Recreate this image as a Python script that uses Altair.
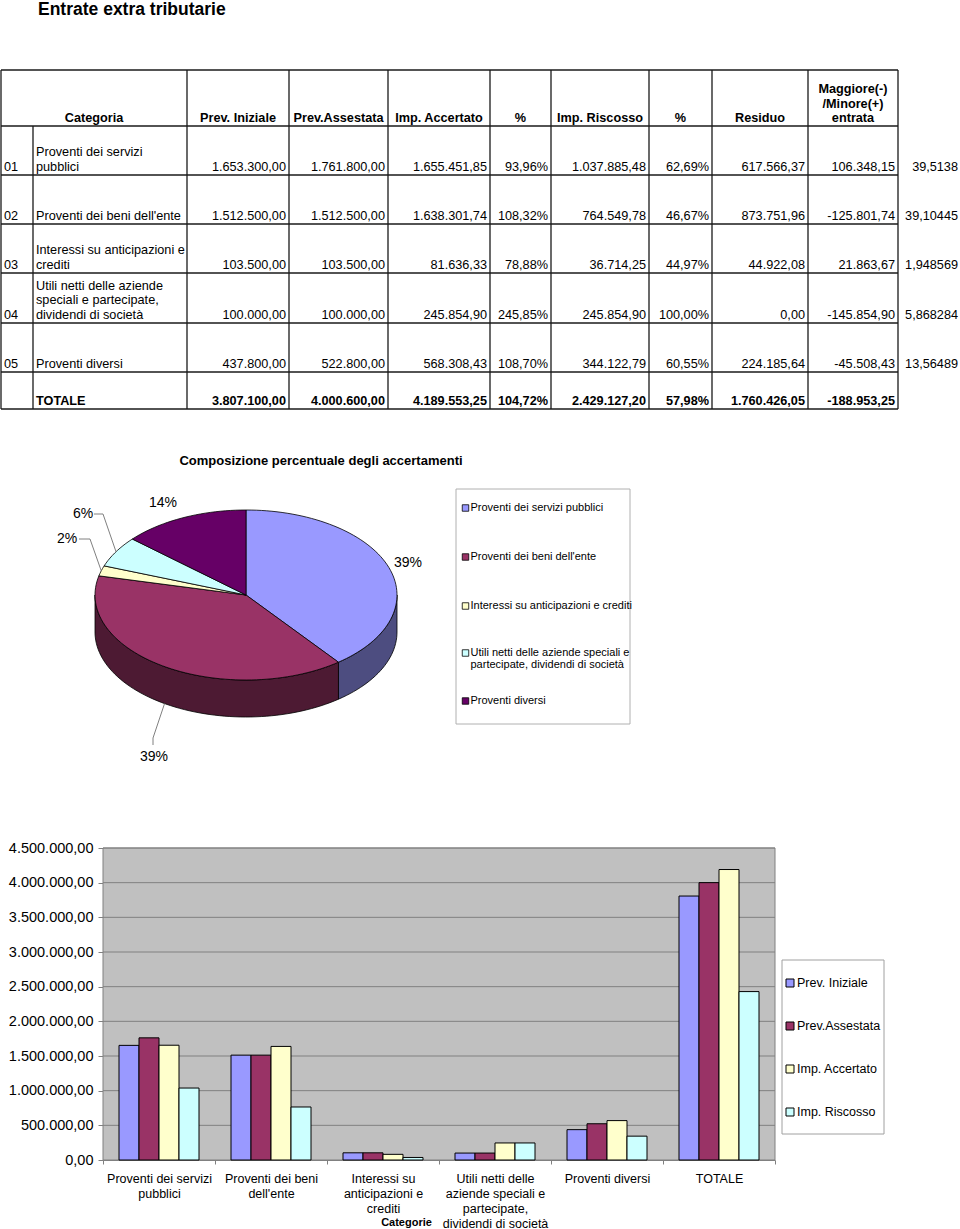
import math
import altair as alt
import pandas as pd

# ------------------------------------------------------------------ data
codes = ["01", "02", "03", "04", "05", ""]
table_names = [
    "Proventi dei servizi\npubblici",
    "Proventi dei beni dell'ente",
    "Interessi su anticipazioni e\ncrediti",
    "Utili netti delle aziende\nspeciali e partecipate,\ndividendi di società",
    "Proventi diversi",
    "TOTALE",
]
headers = ["Categoria", "Prev. Iniziale", "Prev.Assestata", "Imp. Accertato", "%",
           "Imp. Riscosso", "%", "Residuo", "Maggiore(-)\n/Minore(+)\nentrata"]

prev_iniziale = [1653300.00, 1512500.00, 103500.00, 100000.00, 437800.00, 3807100.00]
prev_assestata = [1761800.00, 1512500.00, 103500.00, 100000.00, 522800.00, 4000600.00]
imp_accertato = [1655451.85, 1638301.74, 81636.33, 245854.90, 568308.43, 4189553.25]
pct_accertato = [93.96, 108.32, 78.88, 245.85, 108.70, 104.72]
imp_riscosso = [1037885.48, 764549.78, 36714.25, 245854.90, 344122.79, 2429127.20]
pct_riscosso = [62.69, 46.67, 44.97, 100.00, 60.55, 57.98]
residuo = [617566.37, 873751.96, 44922.08, 0.00, 224185.64, 1760426.05]
maggiore_minore = [106348.15, -125801.74, 21863.67, -145854.90, -45508.43, -188953.25]
quota_accertato = [39.5138, 39.10445, 1.948569, 5.868284, 13.56489]

pie_title = "Composizione percentuale degli accertamenti"
pie_categories = [
    "Proventi dei servizi pubblici",
    "Proventi dei beni dell'ente",
    "Interessi su anticipazioni e crediti",
    "Utili netti delle aziende speciali e\npartecipate, dividendi di società",
    "Proventi diversi",
]
bar_categories = [
    "Proventi dei servizi\npubblici",
    "Proventi dei beni\ndell'ente",
    "Interessi su\nanticipazioni e\ncrediti",
    "Utili netti delle\naziende speciali e\npartecipate,\ndividendi di società",
    "Proventi diversi",
    "TOTALE",
]
series = ["Prev. Iniziale", "Prev.Assestata", "Imp. Accertato", "Imp. Riscosso"]
series_values = [prev_iniziale, prev_assestata, imp_accertato, imp_riscosso]
y_ticks = [0, 500000, 1000000, 1500000, 2000000, 2500000, 3000000, 3500000, 4000000, 4500000]

# ------------------------------------------------------------------ styles
series_colors = ["#9999FF", "#993366", "#FFFFCC", "#CCFFFF"]
pie_colors = ["#9999FF", "#993366", "#FFFFCC", "#CCFFFF", "#660066"]
pie_side_colors = ["#4D4D80", "#4D1A33", "#808066", "#668080", "#330033"]
FONT = "Liberation Sans"

# ------------------------------------------------------------------ layout
W, H = 960, 1229
TITLE_POS = (38, 15)
COL_EDGES = [1, 33, 187, 289, 388, 490, 551, 649, 712, 808, 898]
ROW_EDGES = [70, 126, 175, 224, 273, 323, 372, 409]
EXTRA_RIGHT = 958
TABLE_FS = 12.7
LINE_H = 14.5

PIE_TITLE_POS = (321, 465)
CX, CY, RX, RY, DEPTH = 246, 595, 151, 85, 37
PIE_LABEL_POS = [(408, 563), (154, 757), (67, 539), (83, 514), (163, 503)]
LEADER_ELBOWS = {1: [(153, 745), (153, 738)], 2: [(79, 539), (90, 539)], 3: [(94, 514), (103, 514)]}
PIE_LEG_BOX = (456, 489, 630, 724)
PIE_LEG_SYM_X, PIE_LEG_TEXT_X = 465.5, 470.5
PIE_LEG_Y = [508, 557, 606, 653, 701]
PIE_LEG_LH = 12

PLOT_X0, PLOT_X1, PLOT_Y0, PLOT_Y1 = 103, 775, 848, 1160
BAR_LEG_BOX = (782, 960, 884, 1134)
BAR_LEG_SYM_X, BAR_LEG_TEXT_X = 790, 797
BAR_LEG_Y = [983, 1026, 1069, 1112]


# ------------------------------------------------------------------ helpers
def it(v, dec=2):
    s = f"{v:,.{dec}f}"
    return s.replace(",", "#").replace(".", ",").replace("#", ".")


def PX(field):
    return alt.X(field, type="quantitative",
                 scale=alt.Scale(domain=[0, W], range=[0, W], nice=False, zero=False), axis=None)


def PY(field):
    return alt.Y(field, type="quantitative",
                 scale=alt.Scale(domain=[0, H], range=[0, H], nice=False, zero=False), axis=None)


def text_layers(cells, size, baseline="alphabetic"):
    df = pd.DataFrame(cells)
    out = []
    for (align, bold), g in df.groupby(["align", "bold"]):
        out.append(
            alt.Chart(g[["x", "y", "text"]]).mark_text(
                align=align, baseline=baseline, font=FONT, fontSize=size,
                fontWeight="bold" if bold else "normal", color="black"
            ).encode(x=PX("x"), y=PY("y"), text="text:N")
        )
    return out


# ------------------------------------------------------------------ title + table
cells = []


def add_lines(x, y_last, text, align, bold):
    lines = text.split("\n")
    n = len(lines)
    for i, ln in enumerate(lines):
        cells.append(dict(x=x, y=y_last - (n - 1 - i) * LINE_H, text=ln, align=align, bold=bold))


hb = ROW_EDGES[1] - 4
add_lines((COL_EDGES[0] + COL_EDGES[2]) / 2, hb, headers[0], "center", True)
for j, h in enumerate(headers[1:]):
    c = j + 2
    add_lines((COL_EDGES[c] + COL_EDGES[c + 1]) / 2, hb, h, "center", True)

for r in range(6):
    base = ROW_EDGES[r + 2] - 4.5
    bold = r == 5
    if codes[r]:
        add_lines(COL_EDGES[0] + 3, base, codes[r], "left", False)
    add_lines(COL_EDGES[1] + 3, base, table_names[r], "left", bold)
    vals = [it(prev_iniziale[r]), it(prev_assestata[r]), it(imp_accertato[r]),
            it(pct_accertato[r]) + "%", it(imp_riscosso[r]), it(pct_riscosso[r]) + "%",
            it(residuo[r]), it(maggiore_minore[r])]
    for j, v in enumerate(vals):
        add_lines(COL_EDGES[j + 3] - 3, base, v, "right", bold)
    if r < 5:
        add_lines(EXTRA_RIGHT, base, str(quota_accertato[r]).replace(".", ","), "right", False)

table_text = text_layers(cells, TABLE_FS)

rules = []
for y in ROW_EDGES:
    rules.append(dict(x=COL_EDGES[0], x2=COL_EDGES[-1], y=y, y2=y))
for k, x in enumerate(COL_EDGES):
    rules.append(dict(x=x, x2=x, y=ROW_EDGES[1] if k == 1 else ROW_EDGES[0], y2=ROW_EDGES[-1]))
table_rules = alt.Chart(pd.DataFrame(rules)).mark_rule(color="#1a1a1a", strokeWidth=1.3).encode(
    x=PX("x"), x2="x2:Q", y=PY("y"), y2="y2:Q")

title_layer = text_layers([dict(x=TITLE_POS[0], y=TITLE_POS[1], text="Entrate extra tributarie",
                                align="left", bold=True)], 17.5)

# ------------------------------------------------------------------ pie (3-D look)
total = sum(imp_accertato[:5])
shares = [v / total * 100 for v in imp_accertato[:5]]
floors = [math.floor(s) for s in shares]
rest = 100 - sum(floors)
pct = floors[:]
for i in sorted(range(5), key=lambda i: shares[i] - floors[i], reverse=True)[:rest]:
    pct[i] += 1


def ept(a, dy=0.0):
    r = math.radians(a)
    return [round(CX + RX * math.sin(r), 2), round(CY - RY * math.cos(r) + dy, 2)]


def arc(a0, a1, dy=0.0):
    n = max(2, int(abs(a1 - a0) / 2) + 2)
    return [ept(a0 + (a1 - a0) * k / (n - 1), dy) for k in range(n)]


def feature(geom_type, coords, part):
    return {"type": "Feature", "properties": {"part": part},
            "geometry": {"type": geom_type, "coordinates": coords}}


sides, tops, mids = [], [], []
cum = 0.0
for i, v in enumerate(imp_accertato[:5]):
    a0 = cum / total * 360
    cum += v
    a1 = cum / total * 360
    mids.append((a0 + a1) / 2)
    s0, s1 = max(a0, 90), min(a1, 270)
    if s1 > s0:
        ring = arc(s0, s1) + arc(s1, s0, DEPTH)
        ring.append(ring[0])
        sides.append(feature("Polygon", [ring], f"side {i}"))
    ring = [[CX, CY]] + arc(a0, a1) + [[CX, CY]]
    tops.append(feature("Polygon", [ring], f"top {i}"))

parts = [f"side {i}" for i in range(5)] + [f"top {i}" for i in range(5)]
pie_layer = alt.Chart(alt.Data(values=sides + tops)).mark_geoshape(
    stroke="black", strokeWidth=0.8
).encode(
    fill=alt.Fill("properties.part:N", scale=alt.Scale(domain=parts, range=pie_side_colors + pie_colors),
                  legend=None)
).project(type="identity", scale=1, translate=[0, 0])

leaders = []
for i, elbow in LEADER_ELBOWS.items():
    end = ept(mids[i], DEPTH if i == 1 else 0.0)
    leaders.append(feature("LineString", [list(p) for p in elbow] + [end], f"leader {i}"))
leader_layer = alt.Chart(alt.Data(values=leaders)).mark_geoshape(
    filled=False, stroke="#808080", strokeWidth=1
).project(type="identity", scale=1, translate=[0, 0])

pie_labels = text_layers([dict(x=PIE_LABEL_POS[i][0], y=PIE_LABEL_POS[i][1], text=f"{pct[i]}%",
                               align="center", bold=False) for i in range(5)], 14, baseline="middle")
pie_title_layer = text_layers([dict(x=PIE_TITLE_POS[0], y=PIE_TITLE_POS[1], text=pie_title,
                                    align="center", bold=True)], 13)

# pie legend
def box_layer(b, stroke):
    return alt.Chart(pd.DataFrame([dict(x=b[0], y=b[1], x2=b[2], y2=b[3])])).mark_rect(
        fill="white", stroke=stroke, strokeWidth=1).encode(x=PX("x"), x2="x2:Q", y=PY("y"), y2="y2:Q")


pie_leg_box = box_layer(PIE_LEG_BOX, "#B0B0B0")
pie_leg_sym = alt.Chart(pd.DataFrame({"cat": pie_categories, "x": PIE_LEG_SYM_X, "y": PIE_LEG_Y})).mark_square(
    size=42, stroke="black", strokeWidth=0.8, opacity=1).encode(
    x=PX("x"), y=PY("y"),
    fill=alt.Fill("cat:N", scale=alt.Scale(domain=pie_categories, range=pie_colors), legend=None))
leg_cells = []
for i, c in enumerate(pie_categories):
    for k, ln in enumerate(c.split("\n")):
        leg_cells.append(dict(x=PIE_LEG_TEXT_X, y=PIE_LEG_Y[i] + k * PIE_LEG_LH, text=ln, align="left", bold=False))
pie_leg_text = text_layers(leg_cells, 11, baseline="middle")

# ------------------------------------------------------------------ bar chart
bar_df = pd.DataFrame([
    {"cat": bar_categories[i], "series": s, "value": series_values[j][i]}
    for i in range(len(bar_categories)) for j, s in enumerate(series)
])
ybar_scale = alt.Scale(domain=[0, 4500000], range=[PLOT_Y1, PLOT_Y0], nice=False, zero=True)

bar_bg = alt.Chart(pd.DataFrame({"a": [0]})).mark_rect(fill="#C0C0C0", stroke="#808080", strokeWidth=1).encode(
    x=alt.value(PLOT_X0), x2=alt.value(PLOT_X1), y=alt.value(PLOT_Y0), y2=alt.value(PLOT_Y1))
bar_grid = alt.Chart(pd.DataFrame({"tick": y_ticks[1:]})).mark_rule(color="#808080", strokeWidth=1).encode(
    y=alt.Y("tick:Q", scale=ybar_scale, axis=None), x=alt.value(PLOT_X0), x2=alt.value(PLOT_X1))

label_expr_y = ("replace(replace(replace(format(datum.value, ',.2f'), regexp(',', 'g'), '#'), "
                "regexp('[.]', 'g'), ','), regexp('#', 'g'), '.')")

bars = alt.Chart(bar_df).mark_bar(stroke="black", strokeWidth=1).encode(
    x=alt.X("cat:N", scale=alt.Scale(domain=bar_categories, range=[PLOT_X0, PLOT_X1],
                                     paddingInner=0, paddingOuter=0),
            axis=alt.Axis(orient="bottom", offset=-(H - PLOT_Y1), tickBand="extent",
                          labelExpr="split(datum.label, '\\n')", labelFont=FONT, labelFontSize=12.5,
                          labelLineHeight=15, labelColor="black", labelPadding=8, labelAngle=0,
                          labelOverlap=False, labelLimit=220, tickSize=4, tickColor="#808080",
                          domainColor="#808080", grid=False,
                          title="Categorie", titleFont=FONT, titleFontSize=11, titleFontWeight="bold",
                          titleColor="black", titleX=406, titleY=65, titleAlign="center",
                          titleBaseline="alphabetic")),
    xOffset=alt.XOffset("series:N", scale=alt.Scale(domain=series, paddingOuter=0.8, paddingInner=0)),
    y=alt.Y("value:Q", scale=ybar_scale,
            axis=alt.Axis(orient="left", offset=-PLOT_X0, values=y_ticks, labelExpr=label_expr_y,
                          labelFont=FONT, labelFontSize=14.5, labelColor="black", labelPadding=5,
                          tickSize=5, tickColor="#808080", domainColor="#808080", grid=False,
                          title=None)),
    fill=alt.Fill("series:N", scale=alt.Scale(domain=series, range=series_colors), legend=None),
)

bar_leg_box = box_layer(BAR_LEG_BOX, "#A0A0A0")
bar_leg_sym = alt.Chart(pd.DataFrame({"series": series, "x": BAR_LEG_SYM_X, "y": BAR_LEG_Y})).mark_square(
    size=64, stroke="black", strokeWidth=1, opacity=1).encode(
    x=PX("x"), y=PY("y"),
    fill=alt.Fill("series:N", scale=alt.Scale(domain=series, range=series_colors), legend=None))
bar_leg_text = text_layers([dict(x=BAR_LEG_TEXT_X, y=BAR_LEG_Y[i], text=s, align="left", bold=False)
                            for i, s in enumerate(series)], 12.5, baseline="middle")

# ------------------------------------------------------------------ compose
layers = ([table_rules] + table_text + title_layer +
          [pie_layer, leader_layer] + pie_labels + pie_title_layer +
          [pie_leg_box, pie_leg_sym] + pie_leg_text +
          [bar_bg, bar_grid, bars, bar_leg_box, bar_leg_sym] + bar_leg_text)

chart = alt.layer(*layers).resolve_scale(
    x="independent", y="independent", fill="independent"
).properties(
    width=W, height=H, autosize=alt.AutoSizeParams(type="none"), padding=0, background="white"
).configure_view(strokeWidth=0)

chart.save("out.html", embed_options={"renderer": "svg", "actions": False})
